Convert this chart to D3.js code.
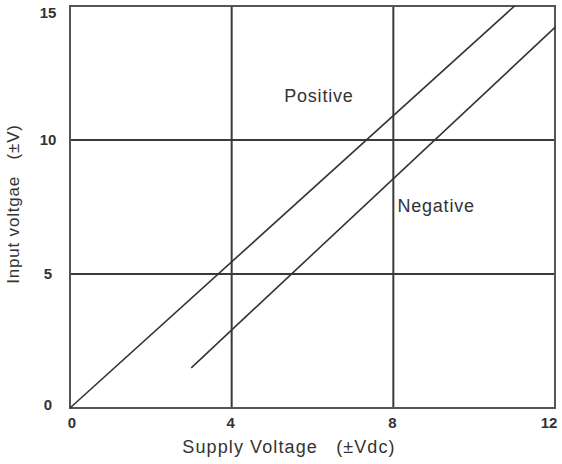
<!DOCTYPE html>
<html><head><meta charset="utf-8">
<script src="https://cdn.jsdelivr.net/npm/d3@7"></script>
<style>body{margin:0;background:#fff}svg{display:block}text{font-family:"Liberation Sans",Arial,sans-serif;fill:#333;white-space:pre}</style>
</head><body><svg width="562" height="464"></svg>
<script>
const xTicks = [0, 4, 8, 12];
const yTicks = [0, 5, 10, 15];
const positiveX = [0, 11];
const positiveY = [0, 15];
const negativeX = [3, 12];
const negativeY = [1.5, 14.2];
const seriesLabels = ["Positive", "Negative"];
const labelPos = [[5.3, 11.42], [8.1, 7.31]];
const xTitle = "Supply Voltage   (±Vdc)";
const yTitle = "Input voltgae   (±V)";

const svg = d3.select("svg");
const m = {l: 70, r: 7, t: 6, b: 56};
const W = 562, H = 464;
const x = d3.scaleLinear().domain([0, 12]).range([m.l, W - m.r]);
const y = d3.scaleLinear().domain([0, 15]).range([H - m.b, m.t]);

// gridlines
svg.append("g").selectAll("line").data(xTicks.slice(1, -1)).join("line")
  .attr("x1", d => x(d)).attr("x2", d => x(d)).attr("y1", y(0)).attr("y2", y(15))
  .attr("stroke", "#3a3a3a").attr("stroke-width", 2);
svg.append("g").selectAll("line").data(yTicks.slice(1, -1)).join("line")
  .attr("y1", d => y(d)).attr("y2", d => y(d)).attr("x1", x(0)).attr("x2", x(12))
  .attr("stroke", "#3a3a3a").attr("stroke-width", 2);
// frame
svg.append("rect").attr("x", x(0)).attr("y", y(15)).attr("width", x(12) - x(0)).attr("height", y(0) - y(15))
  .attr("fill", "none").attr("stroke", "#555").attr("stroke-width", 2);

// lines
const line = d3.line().x(d => x(d[0])).y(d => y(d[1]));
svg.append("path").datum(positiveX.map((v, i) => [v, positiveY[i]])).attr("d", line)
  .attr("fill", "none").attr("stroke", "#333").attr("stroke-width", 1.6);
svg.append("path").datum(negativeX.map((v, i) => [v, negativeY[i]])).attr("d", line)
  .attr("fill", "none").attr("stroke", "#333").attr("stroke-width", 1.6);

// series labels
svg.selectAll(".sl").data(seriesLabels).join("text").attr("class", "sl")
  .attr("x", (d, i) => x(labelPos[i][0])).attr("y", (d, i) => y(labelPos[i][1]))
  .attr("font-size", 18).attr("letter-spacing", 0.8).text(d => d);

// tick labels
svg.selectAll(".xt").data(xTicks).join("text").attr("class", "xt")
  .attr("x", d => x(d) + (d === 0 ? 2 : d === 12 ? -6 : -1)).attr("y", y(0) + 20)
  .attr("text-anchor", "middle").attr("font-size", 15).attr("font-weight", "bold").attr("fill", "#444").text(d => d);
svg.selectAll(".yt").data(yTicks).join("text").attr("class", "yt")
  .attr("x", 48).attr("y", d => Math.max(y(d), 13) - (d === 0 ? 3 : 0)).attr("dy", "0.35em")
  .attr("text-anchor", "middle").attr("font-size", 15).attr("font-weight", "bold").attr("fill", "#444").text(d => d);

// titles
svg.append("text").attr("x", 289).attr("y", 453).attr("text-anchor", "middle")
  .attr("font-size", 18).attr("letter-spacing", 1.1).text(xTitle);
svg.append("text").attr("transform", "translate(19,204) rotate(-90)").attr("text-anchor", "middle")
  .attr("font-size", 17).attr("letter-spacing", 0.8).text(yTitle);
</script></body></html>
